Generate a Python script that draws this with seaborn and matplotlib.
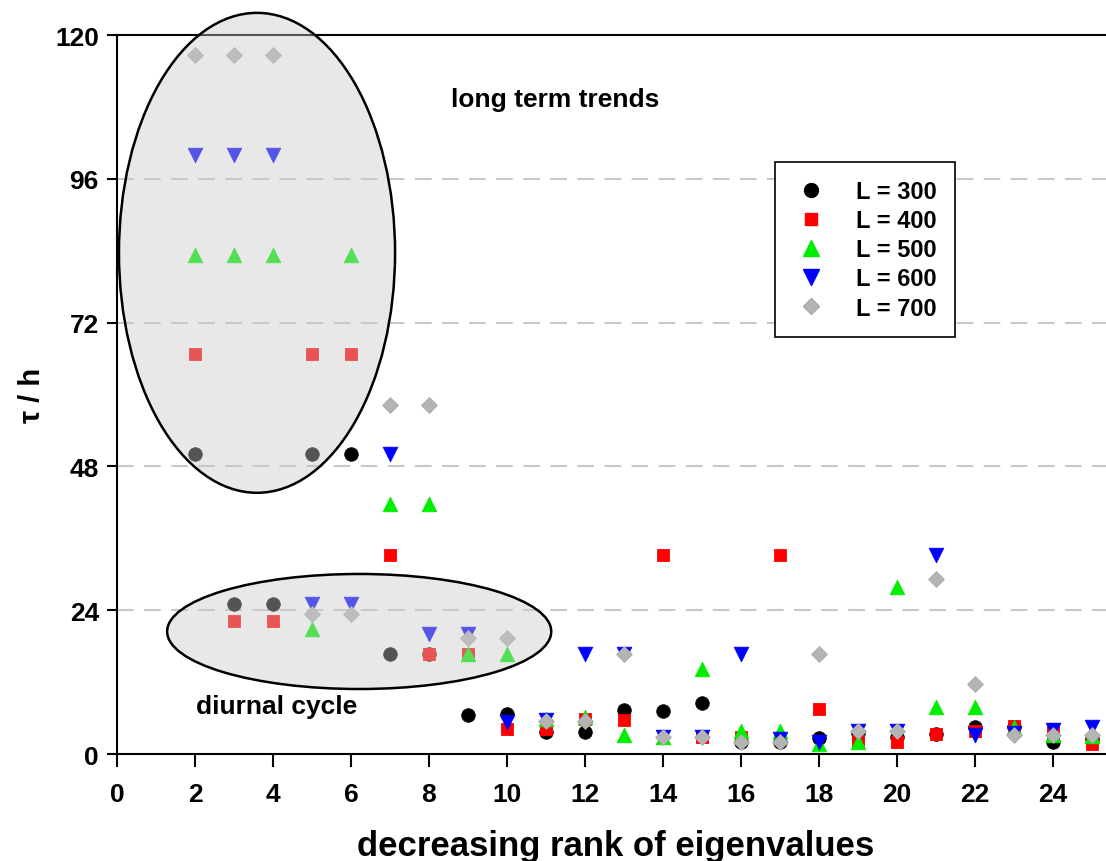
import numpy as np
import pandas as pd
import matplotlib
matplotlib.use("Agg")
import matplotlib.pyplot as plt
from matplotlib.patches import Ellipse
from matplotlib.lines import Line2D
import seaborn as sns

ranks = list(range(2, 26))
tau_L300 = [50, 25, 25, 50, 50, 16.7, 16.7, 6.5, 6.7, 3.6, 3.7, 7.4, 7.2, 8.5,
            2.0, 2.0, 2.6, 3.5, 2.8, 3.3, 4.5, 4.5, 2.0, 2.5]
tau_L400 = [66.7, 22.2, 22.2, 66.7, 66.7, 33.3, 16.7, 16.7, 4.1, 4.2, 5.8, 5.7, 33.3, 2.8,
            2.8, 33.3, 7.5, 2.2, 2.0, 3.3, 3.9, 4.7, 4.2, 1.7]
tau_L500 = [83.3, 83.3, 83.3, 20.8, 83.3, 41.7, 41.7, 16.7, 16.7, 5.8, 6.2, 3.1, 2.8, 14.2,
            3.9, 3.9, 1.7, 2.0, 27.8, 7.8, 7.8, 4.5, 3.2, 3.0]
tau_L600 = [100, 100, 100, 25, 25, 50, 20, 20, 5.4, 5.6, 16.7, 16.7, 2.8, 2.8,
            16.7, 2.5, 2.0, 3.9, 3.9, 33.3, 3.2, 3.5, 4.0, 4.5]
tau_L700 = [116.7, 116.7, 116.7, 23.3, 23.3, 58.3, 58.3, 19.4, 19.4, 5.5, 5.5, 16.7, 2.8, 2.8,
            2.0, 2.0, 16.7, 3.9, 3.9, 29.2, 11.7, 3.2, 3.2, 3.2]

series_labels = ["L = 300", "L = 400", "L = 500", "L = 600", "L = 700"]
series_values = [tau_L300, tau_L400, tau_L500, tau_L600, tau_L700]
colors = ["#000000", "#ff0000", "#00ee00", "#0000ff", "#b4b4b4"]
markers = ["o", "s", "^", "v", "D"]
sizes = [95, 80, 110, 110, 65]
edgecolors = ["#000000", "#ff0000", "#00ee00", "#0000ff", "#a8a8a8"]

y_ticks = [0, 24, 48, 72, 96, 120]
x_ticks = list(range(0, 25, 2))

sns.set_theme(style="white")
plt.rcParams['font.family'] = ['Liberation Sans', 'DejaVu Sans']
plt.rcParams['font.weight'] = 'bold'
plt.rcParams['text.color'] = 'black'
plt.rcParams['axes.labelcolor'] = 'black'
plt.rcParams['xtick.color'] = 'black'
plt.rcParams['ytick.color'] = 'black'

fig = plt.figure(figsize=(11.06, 8.62), dpi=100)
ax = fig.add_axes([0.1058, 0.1241, 0.8942, 0.8341])

rows = []
for lab, vals in zip(series_labels, series_values):
    for r, v in zip(ranks, vals):
        rows.append({"rank": r, "tau": v, "L": lab})
df = pd.DataFrame(rows)

for lab, col, mk, sz, ec in zip(series_labels, colors, markers, sizes, edgecolors):
    sub = df[df["L"] == lab]
    sns.scatterplot(data=sub, x="rank", y="tau", color=col, marker=mk, s=sz,
                    edgecolor=ec, linewidth=0.6, ax=ax, zorder=3, legend=False)

# grid lines
for yv in y_ticks[1:-1]:
    ax.axhline(yv, color="#c8c8c8", lw=1.5, ls=(0, (8, 5)), zorder=1)

# ellipses (translucent overlay + outline)
for (cx, cy, w, h) in [(3.59, 83.65, 7.08, 80.1), (6.21, 20.45, 9.85, 19.2)]:
    ax.add_patch(Ellipse((cx, cy), w, h, facecolor="#cacaca", alpha=0.42,
                         edgecolor="none", zorder=4, clip_on=False))
    ax.add_patch(Ellipse((cx, cy), w, h, facecolor="none", edgecolor="black",
                         lw=1.8, zorder=5, clip_on=False))

ax.text(11.23, 109.3, "long term trends", fontsize=19, fontweight="bold",
        ha="center", va="center", zorder=6, color="black")
ax.text(4.1, 8.0, "diurnal cycle", fontsize=19, fontweight="bold",
        ha="center", va="center", zorder=6, color="black")

ax.set_xlim(0, 25.36)
ax.set_ylim(0, 120)
ax.set_xticks(x_ticks)
ax.set_yticks(y_ticks)
ax.set_xticklabels([str(t) for t in x_ticks], fontsize=19, fontweight="bold")
ax.set_yticklabels([str(t) for t in y_ticks], fontsize=19, fontweight="bold")
ax.tick_params(axis="x", direction="out", length=9, width=1.5, pad=11, bottom=True)
ax.tick_params(axis="y", direction="out", length=7, width=1.5, pad=6, left=True)

ax.set_xlabel("decreasing rank of eigenvalues", fontsize=25, fontweight="bold")
ax.set_ylabel("τ / h", fontsize=21, fontweight="bold")
ax.xaxis.set_label_coords(0.504, -0.104)
ax.yaxis.set_label_coords(-0.072, 0.5)

for s in ["left", "bottom", "top"]:
    ax.spines[s].set_visible(True)
    ax.spines[s].set_color("black")
    ax.spines[s].set_linewidth(1.5)
ax.spines["right"].set_visible(False)

handles = [Line2D([0], [0], marker=mk, color="none", markerfacecolor=col,
                  markeredgecolor=ec, markersize=ms, label=lab)
           for lab, col, mk, ec, ms in zip(series_labels, colors, markers, edgecolors,
                                           [10, 9, 11, 11, 8])]
leg = ax.legend(handles=handles, loc="upper right", bbox_to_anchor=(0.847, 0.823),
                frameon=True, fancybox=False, edgecolor="black", framealpha=1,
                prop={"size": 17, "weight": "bold"}, handletextpad=1.1,
                labelspacing=0.26, borderpad=0.75, handlelength=1.6, borderaxespad=0)
leg.get_frame().set_linewidth(1.2)
leg.set_zorder(7)
for t in leg.get_texts():
    t.set_color("black")

fig.savefig("out.png", dpi=100)
